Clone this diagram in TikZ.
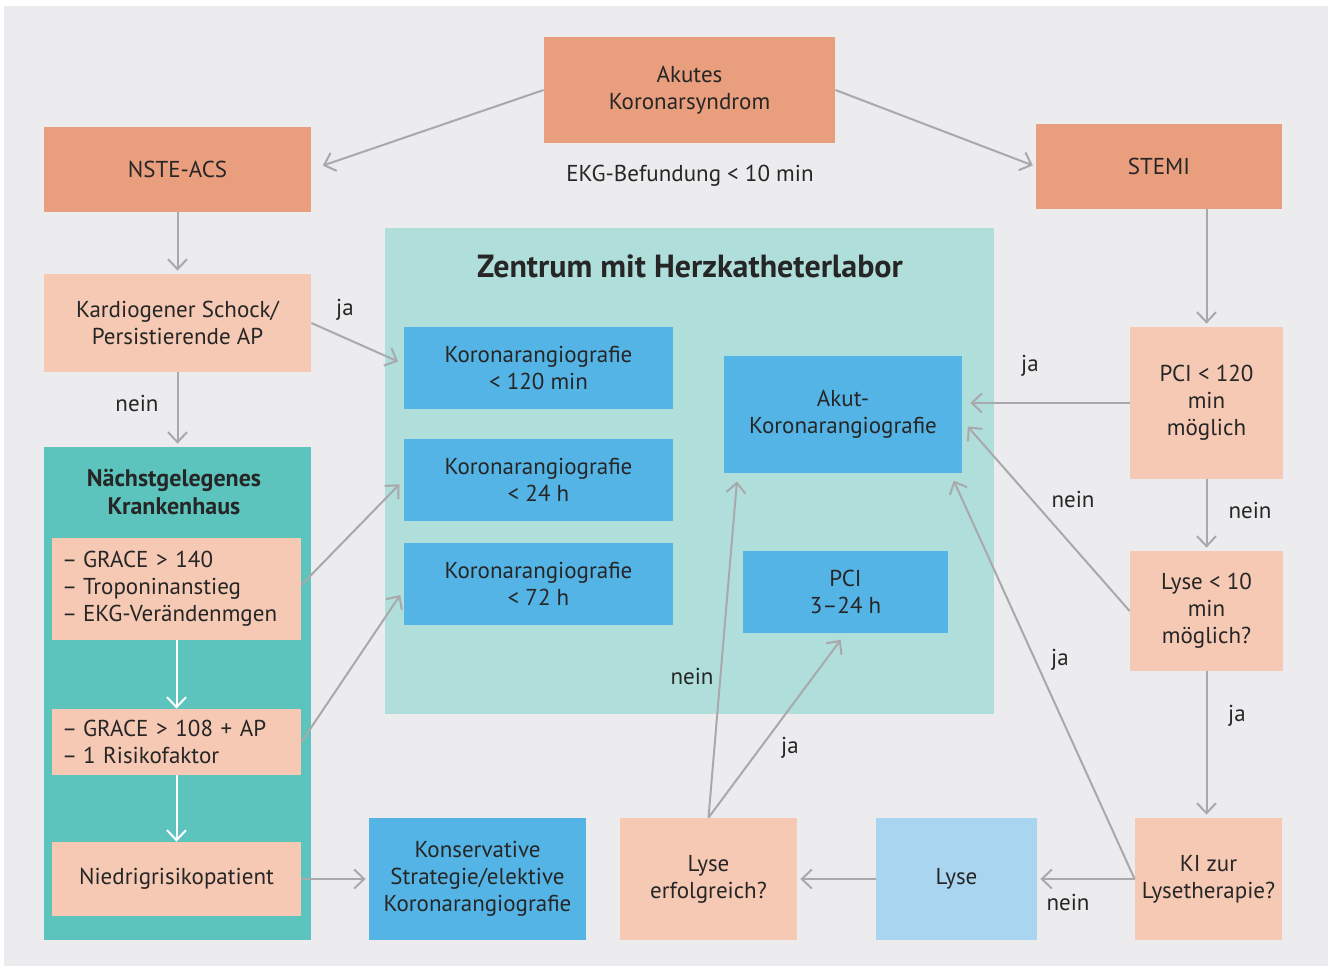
\documentclass[tikz,border=0pt]{standalone}
\usepackage{fontspec}
\setmainfont{PT Sans}
\usetikzlibrary{positioning,arrows.meta}
\definecolor{bgray}{HTML}{ECECEE}
\definecolor{salmon}{HTML}{E99E7D}
\definecolor{peach}{HTML}{F5C9B3}
\definecolor{teal}{HTML}{5CC4BC}
\definecolor{mint}{HTML}{B0DEDB}
\definecolor{sky}{HTML}{54B4E5}
\definecolor{pale}{HTML}{A9D5F0}
\definecolor{ink}{HTML}{262626}
\definecolor{wire}{HTML}{A9A9AB}

\begin{document}
\begin{tikzpicture}[
  x=0.5pt, y=-0.5pt,
  every node/.style={font=\fontsize{11.5}{13.5}\selectfont, text=ink},
  box/.style={inner sep=0pt, align=center},
  lbl/.style={inner sep=0pt},
  title/.style={inner sep=0pt, align=center, font=\fontsize{12}{14}\selectfont\bfseries},
  arrow/.style={-{Straight Barb[length=5pt,width=9.5pt]}, line width=1pt, draw=wire, shorten >=1.5pt},
  warrow/.style={-{Straight Barb[length=5pt,width=9.5pt]}, line width=1pt, draw=white}
]
\useasboundingbox (0,0) rectangle (1333,969);
\fill[bgray] (4,6) rectangle (1328,966);

\node[box, fill=mint, minimum width=304.5pt, minimum height=243pt] (zentrum) at (689.5,471) {};
\node[title, font=\fontsize{16}{18}\selectfont\bfseries] (ztitle) at (690,266) {Zentrum mit Herzkatheterlabor};
\node[box, fill=teal, minimum width=133.5pt, minimum height=246.5pt] (naechst) at (177.5,693.5) {};
\node[title] (ntitle) at (174,492) {Nächstgelegenes\\Krankenhaus};

\node[box, fill=salmon, minimum width=145.5pt, minimum height=53pt] (acs) at (689.5,90) {Akutes\\Koronarsyndrom};
\node[box, fill=salmon, minimum width=133.5pt, minimum height=42.5pt] (nste) at (177.5,169.5) {NSTE-ACS};
\node[box, fill=salmon, minimum width=123pt, minimum height=42.5pt] (stemi) at (1159,166.5) {STEMI};

\node[box, fill=peach, minimum width=133.5pt, minimum height=49pt] (schock) at (177.5,323) {Kardiogener Schock/\\Persistierende AP};
\node[box, fill=peach, minimum width=124.5pt, minimum height=51pt, align=left, text width=114.5pt] (grace1) at (176.5,589)
  {\makebox[10.5pt][l]{–}GRACE > 140\\\makebox[10.5pt][l]{–}Troponinanstieg\\\makebox[10.5pt][l]{–}EKG-Verändenmgen};
\node[box, fill=peach, minimum width=124.5pt, minimum height=33pt, align=left, text width=114.5pt] (grace2) at (176.5,742)
  {\makebox[10.5pt][l]{–}GRACE > 108 + AP\\\makebox[10.5pt][l]{–}1 Risikofaktor};
\node[box, fill=peach, minimum width=124.5pt, minimum height=37pt] (niedrig) at (176.5,879) {Niedrigrisikopatient};

\node[box, fill=sky, minimum width=134.5pt, minimum height=41pt] (ka120) at (538.5,368) {Koronarangiografie\\< 120 min};
\node[box, fill=sky, minimum width=134.5pt, minimum height=41pt] (ka24) at (538.5,480) {Koronarangiografie\\< 24 h};
\node[box, fill=sky, minimum width=134.5pt, minimum height=41pt] (ka72) at (538.5,584) {Koronarangiografie\\< 72 h};
\node[box, fill=sky, minimum width=119pt, minimum height=58.5pt] (akut) at (843,414.5) {Akut-\\Koronarangiografie};
\node[box, fill=sky, minimum width=102.5pt, minimum height=41pt] (pci) at (845.5,592) {PCI\\3–24 h};

\node[box, fill=sky, minimum width=108.5pt, minimum height=61pt] (konserv) at (477.5,879) {Konservative\\Strategie/elektive\\Koronarangiografie};
\node[box, fill=peach, minimum width=88.5pt, minimum height=61pt] (erfolg) at (708.5,879) {Lyse\\erfolgreich?};
\node[box, fill=pale, minimum width=80.5pt, minimum height=61pt] (lyse) at (956.5,879) {Lyse};
\node[box, fill=peach, minimum width=73.5pt, minimum height=61pt] (ki) at (1208.5,879) {KI zur\\Lysetherapie?};

\node[box, fill=peach, minimum width=76.5pt, minimum height=76pt] (pci120) at (1206.5,403) {PCI < 120\\min\\möglich};
\node[box, fill=peach, minimum width=76.5pt, minimum height=60pt] (lyse10) at (1206.5,611) {Lyse < 10\\min\\möglich?};

\node[lbl] (ekg) at (690,176) {EKG-Befundung < 10 min};
\node[lbl] (ja1) at (345,310) {ja};
\node[lbl] (nein1) at (137,403) {nein};
\node[lbl] (ja2) at (1030,366) {ja};
\node[lbl] (nein2) at (1250,510) {nein};
\node[lbl] (nein3) at (1073,499) {nein};
\node[lbl] (ja3) at (1060,660) {ja};
\node[lbl] (ja4) at (1237,716) {ja};
\node[lbl] (nein4) at (1068,902) {nein};
\node[lbl] (nein5) at (692,676) {nein};
\node[lbl] (ja5) at (790,748) {ja};

\draw[arrow, shorten >=6pt] (acs.west) -- (nste.east);
\draw[arrow] (acs.east) -- (stemi.west);
\draw[arrow] (nste) -- (schock);
\draw[arrow] (schock) -- (naechst);
\draw[arrow, shorten >=3pt] (schock.east) -- ([yshift=2pt]ka120.west);
\draw[arrow, shorten >=3pt] ([yshift=2pt]grace1.east) -- (ka24.west);
\draw[arrow, shorten >=3pt] (grace2.east) -- ([yshift=-3pt]ka72.west);
\draw[warrow] (grace1) -- (grace2);
\draw[warrow] (grace2) -- (niedrig);
\draw[arrow] (niedrig.east) -- (konserv.west);
\draw[arrow] (pci120 |- stemi.south) -- (pci120.north);
\draw[arrow] (pci120) -- (lyse10);
\draw[arrow] (lyse10.south) -- (lyse10.south |- ki.north);
\draw[arrow, shorten >=4pt] (pci120.west) -- (pci120.west -| akut.east);
\draw[arrow, shorten >=4pt] (lyse10.west) -- ([yshift=-3pt]akut.east);
\draw[arrow, shorten >=4pt] (ki.west) -- ([xshift=-6pt]akut.south east);
\draw[arrow] (ki.west) -- (lyse.east);
\draw[arrow] (lyse.west) -- (erfolg.east);
\draw[arrow, shorten >=4pt] (erfolg.north) -- ([xshift=7pt]akut.south west);
\draw[arrow, shorten >=4pt] (erfolg.north) -- (pci.south);
\end{tikzpicture}
\end{document}
